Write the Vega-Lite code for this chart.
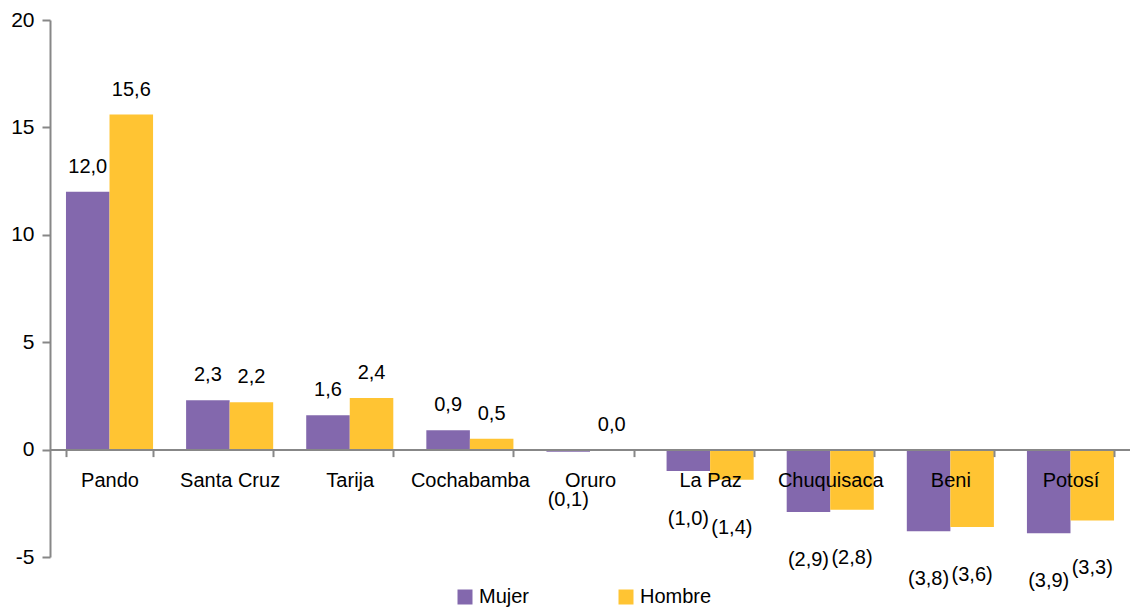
{
  "$schema": "https://vega.github.io/schema/vega-lite/v6.json",
  "width": 1080,
  "height": 537,
  "autosize": "none",
  "padding": {"left": 50, "top": 20, "right": 0, "bottom": 51},
  "config": {
    "view": {"stroke": null},
    "font": "Liberation Sans",
    "locale": {"number": {"decimal": ",", "thousands": ".", "grouping": [3], "currency": ["", ""], "minus": "-"}}
  },
  "data": {
    "values": [
      {"departamento": "Pando", "sexo": "Mujer", "valor": 12.0},
      {"departamento": "Pando", "sexo": "Hombre", "valor": 15.6},
      {"departamento": "Santa Cruz", "sexo": "Mujer", "valor": 2.3},
      {"departamento": "Santa Cruz", "sexo": "Hombre", "valor": 2.2},
      {"departamento": "Tarija", "sexo": "Mujer", "valor": 1.6},
      {"departamento": "Tarija", "sexo": "Hombre", "valor": 2.4},
      {"departamento": "Cochabamba", "sexo": "Mujer", "valor": 0.9},
      {"departamento": "Cochabamba", "sexo": "Hombre", "valor": 0.5},
      {"departamento": "Oruro", "sexo": "Mujer", "valor": -0.1},
      {"departamento": "Oruro", "sexo": "Hombre", "valor": 0.0},
      {"departamento": "La Paz", "sexo": "Mujer", "valor": -1.0},
      {"departamento": "La Paz", "sexo": "Hombre", "valor": -1.4},
      {"departamento": "Chuquisaca", "sexo": "Mujer", "valor": -2.9},
      {"departamento": "Chuquisaca", "sexo": "Hombre", "valor": -2.8},
      {"departamento": "Beni", "sexo": "Mujer", "valor": -3.8},
      {"departamento": "Beni", "sexo": "Hombre", "valor": -3.6},
      {"departamento": "Potosí", "sexo": "Mujer", "valor": -3.9},
      {"departamento": "Potosí", "sexo": "Hombre", "valor": -3.3}
    ]
  },
  "encoding": {
    "x": {
      "field": "departamento",
      "type": "nominal",
      "sort": null,
      "scale": {"paddingInner": 0.275, "paddingOuter": 0.133},
      "axis": {
        "title": null,
        "orient": "bottom",
        "offset": -107.4,
        "zindex": 1,
        "labelAngle": 0,
        "labelFontSize": 20,
        "labelColor": "#000000",
        "labelPadding": 14,
        "labelFont": "Liberation Sans",
        "domainColor": "#878787",
        "domainWidth": 2,
        "tickColor": "#878787",
        "tickWidth": 2,
        "tickSize": 7,
        "tickBand": "extent"
      }
    },
    "xOffset": {"field": "sexo", "sort": ["Mujer", "Hombre"]},
    "y": {
      "field": "valor",
      "type": "quantitative",
      "scale": {"domain": [-5, 20], "nice": false, "zero": false},
      "axis": {
        "title": null,
        "values": [-5, 0, 5, 10, 15, 20],
        "grid": false,
        "format": "d",
        "labelFontSize": 21,
        "labelColor": "#000000",
        "labelPadding": 8,
        "labelFont": "Liberation Sans",
        "domainColor": "#878787",
        "domainWidth": 2,
        "tickColor": "#878787",
        "tickWidth": 2,
        "tickSize": 8
      }
    }
  },
  "layer": [
    {
      "mark": {"type": "bar"},
      "encoding": {
        "color": {
          "field": "sexo",
          "type": "nominal",
          "scale": {"domain": ["Mujer", "Hombre"], "range": ["#8368AD", "#FFC433"]},
          "legend": {
            "title": null,
            "orient": "none",
            "legendX": 405,
            "legendY": 567,
            "direction": "horizontal",
            "symbolType": "square",
            "symbolSize": 225,
            "symbolStrokeWidth": 0,
            "labelFontSize": 20,
            "labelColor": "#000000",
            "labelFont": "Liberation Sans",
            "columnPadding": 86,
            "labelOffset": 4
          }
        }
      }
    },
    {
      "transform": [{"filter": "datum.valor >= 0"}],
      "mark": {"type": "text", "baseline": "middle", "dy": -25, "fontSize": 20, "color": "#000000"},
      "encoding": {"text": {"field": "valor", "type": "quantitative", "format": "(.1f"}}
    },
    {
      "transform": [{"filter": "datum.valor < 0"}],
      "mark": {"type": "text", "baseline": "middle", "dy": 48, "fontSize": 20, "color": "#000000"},
      "encoding": {"text": {"field": "valor", "type": "quantitative", "format": "(.1f"}}
    }
  ]
}
